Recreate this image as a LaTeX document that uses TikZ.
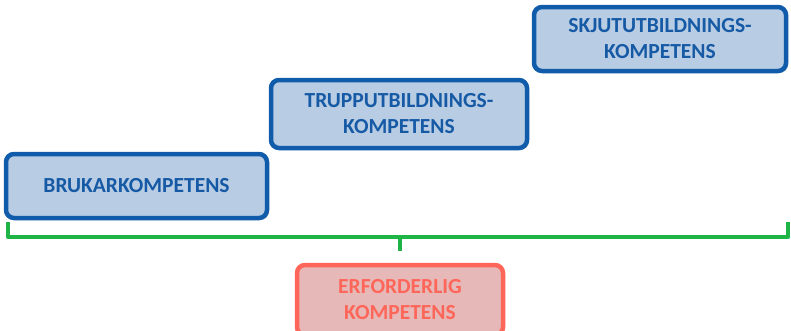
\documentclass[tikz,border=0pt]{standalone}
\usepackage{fontspec}
\setmainfont{Carlito}
\usetikzlibrary{shadows}
\definecolor{boxfill}{RGB}{184,204,228}
\definecolor{boxline}{RGB}{16,92,170}
\definecolor{boxtext}{RGB}{22,90,165}
\definecolor{redfill}{RGB}{230,184,183}
\definecolor{redline}{RGB}{255,102,90}
\definecolor{bracegreen}{RGB}{30,180,70}
\tikzset{
  x=1pt, y=-1pt,
  levelbox/.style={draw=boxline, fill=boxfill, line width=4.5pt, rounded corners=8pt,
    drop shadow={opacity=0.25, shadow xshift=2pt, shadow yshift=-2pt},
    text=boxtext, font=\fontsize{21.5}{26}\selectfont\bfseries, align=center,
    inner sep=0pt},
  reqbox/.style={levelbox, draw=redline, fill=redfill, text=redline},
  brace/.style={draw=bracegreen, line width=4pt, line join=round}
}
\begin{document}
\begin{tikzpicture}
\useasboundingbox (0,0) rectangle (791,330);
\node[levelbox, minimum width=261pt, minimum height=64pt] (b1) at (136.5,186) {BRUKARKOMPETENS};
\node[levelbox, minimum width=256pt, minimum height=68pt] (b2) at (399,114) {TRUPPUTBILDNINGS-\\KOMPETENS};
\node[levelbox, minimum width=252pt, minimum height=64pt] (b3) at (660,39) {SKJUTUTBILDNINGS-\\KOMPETENS};
\node[reqbox, minimum width=206pt, minimum height=70pt] (req) at (400,300) {ERFORDERLIG\\KOMPETENS};
\coordinate (bl) at (8,222);
\coordinate (br) at (788,222);
\coordinate (bm) at (400,237);
\draw[brace] (bl) -- (8,237) -- (788,237) -- (br);
\draw[brace] (bm) -- (400,251);
\end{tikzpicture}
\end{document}
